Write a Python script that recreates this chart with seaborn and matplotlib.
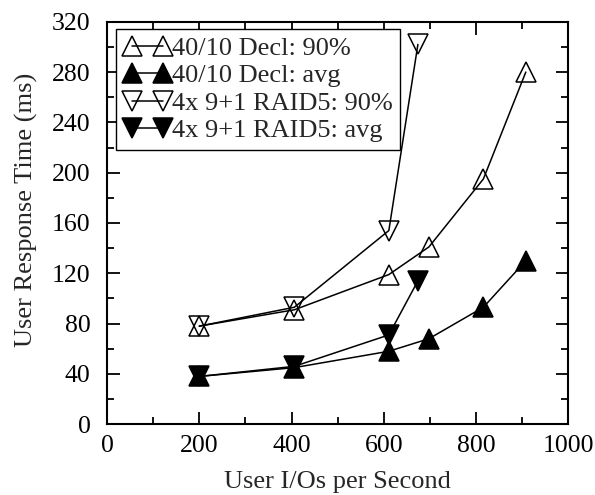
import matplotlib
matplotlib.use("Agg")
import matplotlib.pyplot as plt
import seaborn as sns
import pandas as pd
from matplotlib.ticker import MultipleLocator

decl_x = [200, 406, 611, 698, 816, 908]
decl_90 = [78, 91, 119, 141, 195, 280]
decl_avg = [38, 45, 58, 68, 93, 130]
raid_x = [200, 406, 611, 674]
raid_90 = [78, 93, 154, 302]
raid_avg = [38, 46, 71, 114]

labels = ["40/10 Decl: 90%", "40/10 Decl: avg", "4x 9+1 RAID5: 90%", "4x 9+1 RAID5: avg"]

sns.set_theme(style="ticks")
plt.rcParams["font.family"] = ["Liberation Serif", "DejaVu Serif"]

fig = plt.figure(figsize=(5.95, 4.95), dpi=100)
ax = fig.add_axes([0.18, 0.143, 0.775, 0.813])

series = [
    (decl_x, decl_90, "^", "none", labels[0]),
    (decl_x, decl_avg, "^", "black", labels[1]),
    (raid_x, raid_90, "v", "none", labels[2]),
    (raid_x, raid_avg, "v", "black", labels[3]),
]
for xs, ys, mk, fc, lab in series:
    df = pd.DataFrame({"x": xs, "y": ys})
    sns.lineplot(data=df, x="x", y="y", ax=ax, color="black", linewidth=1.1,
                 marker=mk, markersize=14, markerfacecolor=fc,
                 markeredgecolor="black", markeredgewidth=1.1, label=lab,
                 sort=False, estimator=None)

ax.set_xlim(0, 1000)
ax.set_ylim(0, 320)
ax.xaxis.set_major_locator(MultipleLocator(200))
ax.xaxis.set_minor_locator(MultipleLocator(100))
ax.yaxis.set_major_locator(MultipleLocator(40))
ax.yaxis.set_minor_locator(MultipleLocator(20))
ax.tick_params(which="both", direction="in", top=True, right=True, width=1.3,
               colors="black", labelsize=18.5)
ax.tick_params(axis="x", which="major", pad=8)
ax.tick_params(axis="y", which="major", pad=12)
ax.tick_params(which="major", length=9)
ax.tick_params(which="minor", length=5)
for s in ax.spines.values():
    s.set_linewidth(1.5)
    s.set_color("black")
    s.set_visible(True)

ax.set_xlabel("User I/Os per Second", fontsize=19, labelpad=10)
ax.set_ylabel("User Response Time (ms)", fontsize=19)
ax.yaxis.set_label_coords(-0.149, 0.532)

leg = ax.legend(loc="upper left", bbox_to_anchor=(0.02, 0.983), borderaxespad=0,
                numpoints=2, handlelength=1.75, handletextpad=0.05,
                labelspacing=0.15, borderpad=0.3, fontsize=19, fancybox=False,
                framealpha=1, edgecolor="black")
leg.get_frame().set_linewidth(1.0)

fig.savefig("out.png", dpi=100)
